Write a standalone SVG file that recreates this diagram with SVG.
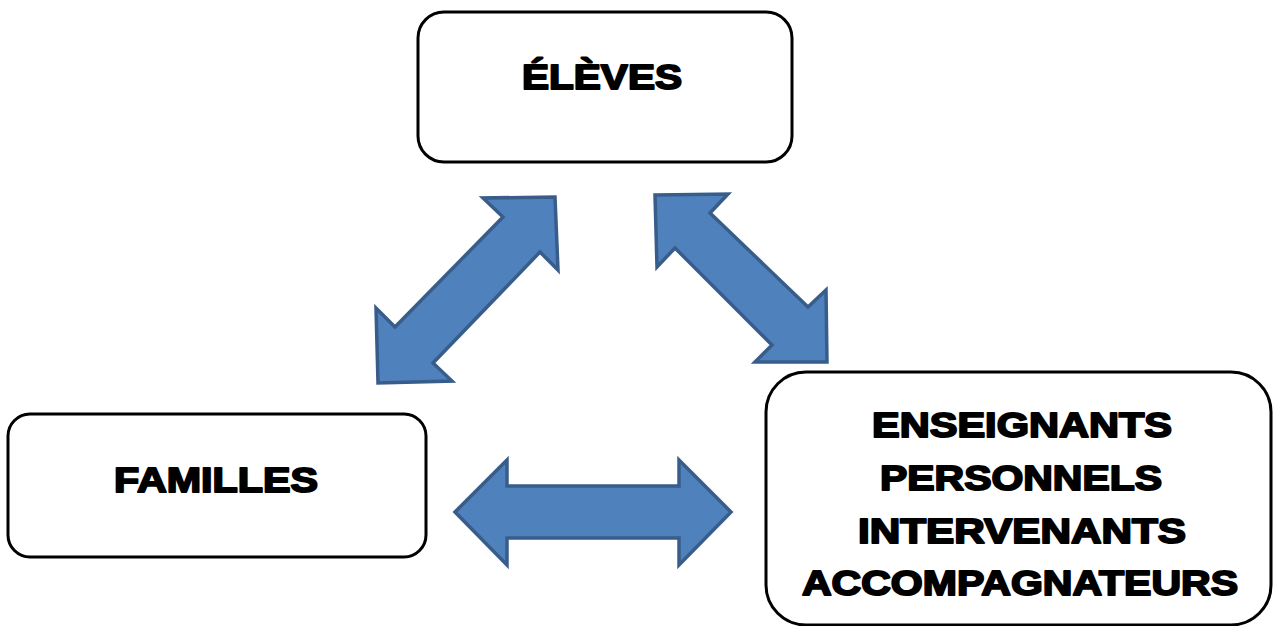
<svg xmlns="http://www.w3.org/2000/svg" width="1273" height="626" viewBox="0 0 1273 626">
<style>
.box{fill:#fff;stroke:#000;stroke-width:3}
.lbl{font-family:"Liberation Sans",Arial,sans-serif;font-weight:bold;font-size:35px;fill:#000;stroke:#000;stroke-width:1.9;text-anchor:middle;stroke-linejoin:round}
.arr{fill:#4F81BD;stroke:#385D8A;stroke-width:3.5;stroke-linejoin:miter}
</style>
<rect width="1273" height="626" fill="#fff"/>
<g id="connectors">
<polygon class="arr" points="555,197 558,270 540,252 433,363 452,381 378,383 376,308 395,327 503,217 483,198"/>
<polygon class="arr" points="655,195 728,194 710,213 808,307 826,290 827,362 755,362 772,345 675,248 657,267"/>
<polygon class="arr" points="455,512 507,460 507,486 679,486 679,460 731,512 679,565 679,538 507,538 507,565"/>
</g>
<g id="eleves">
<rect class="box" x="418" y="12" width="374" height="150" rx="26"/>
<text class="lbl" x="602" y="89" textLength="160" lengthAdjust="spacingAndGlyphs">ÉLÈVES</text>
</g>
<g id="familles">
<rect class="box" x="8" y="414" width="418" height="143" rx="22"/>
<text class="lbl" x="216" y="492" textLength="204" lengthAdjust="spacingAndGlyphs">FAMILLES</text>
</g>
<g id="equipe">
<rect class="box" x="766" y="372" width="505" height="253" rx="40"/>
<text class="lbl" x="1022" y="437" textLength="300" lengthAdjust="spacingAndGlyphs">ENSEIGNANTS</text>
<text class="lbl" x="1021" y="490" textLength="282" lengthAdjust="spacingAndGlyphs">PERSONNELS</text>
<text class="lbl" x="1022" y="543" textLength="328" lengthAdjust="spacingAndGlyphs">INTERVENANTS</text>
<text class="lbl" x="1020" y="595" textLength="436" lengthAdjust="spacingAndGlyphs">ACCOMPAGNATEURS</text>
</g>
</svg>
